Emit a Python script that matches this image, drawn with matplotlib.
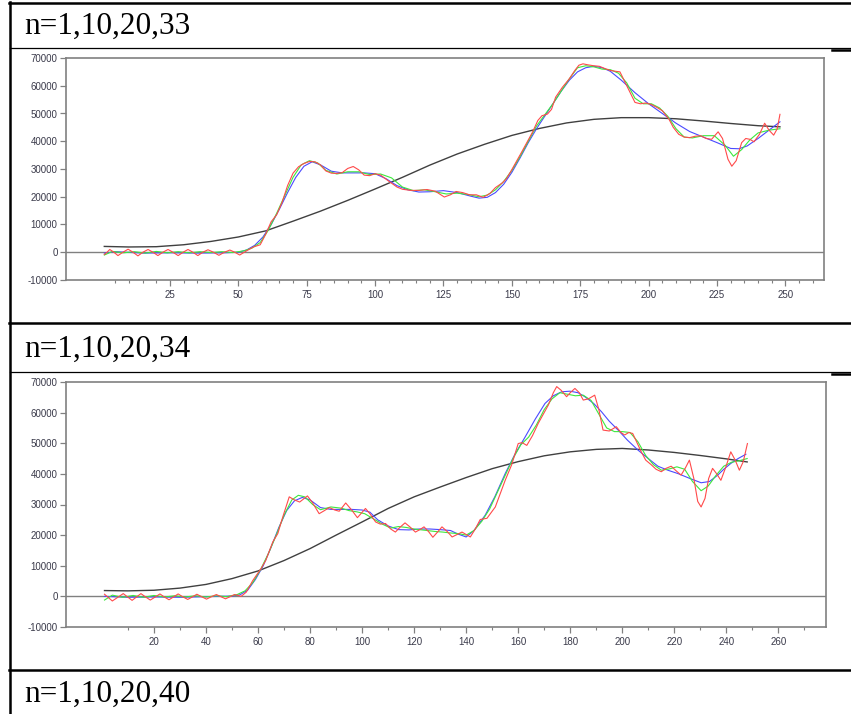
import matplotlib.pyplot as plt
from matplotlib.lines import Line2D

W, H = 851, 714

# ---- chart 1 (n=1,10,20,33) ----
c1_black_x = [1, 10, 20, 30, 40, 50, 60, 70, 80, 90, 100, 110, 120, 130, 140, 150, 160, 170, 180, 190, 200, 210, 220, 230, 240, 248]
c1_black_y = [2100, 1900, 2000, 2700, 3900, 5500, 7700, 11200, 14800, 18700, 22800, 27000, 31400, 35400, 38900, 42100,
              44600, 46600, 47900, 48500, 48500, 48100, 47300, 46400, 45600, 45200]

c1_blue_x = [1, 5, 15, 25, 35, 45, 50, 53, 56, 59, 62, 65, 68, 71, 74, 77, 80, 84, 88, 92, 96, 100, 104, 108, 112, 116,
             120, 125, 130, 135, 138, 141, 144, 147, 150, 153, 156, 159, 162, 165, 168, 171, 174, 177, 180, 183, 186,
             190, 195, 200, 205, 210, 215, 220, 225, 230, 233, 236, 240, 244, 248]
c1_blue_y = [-300, 200, -300, -200, -300, -200, 0, 800, 2500, 5500, 10000, 15500, 21500, 27000, 31000, 32600, 31500,
             29200, 28600, 28600, 28600, 28300, 26500, 24000, 22500, 21700, 21800, 22200, 21500, 20200, 19500, 19800,
             21500, 24500, 28800, 34000, 39500, 44500, 49000, 53500, 58000, 62000, 65000, 66500, 67000, 66500, 65200,
             62000, 57500, 53500, 50000, 46500, 43500, 41500, 39500, 37400, 37300, 38300, 41000, 44000, 47000]

c1_green_x = [1, 4, 8, 12, 16, 20, 24, 28, 32, 36, 40, 44, 48, 52, 55, 58, 61, 64, 67, 70, 73, 76, 79, 82, 86, 90, 94,
              98, 102, 106, 110, 114, 118, 122, 126, 130, 134, 138, 141, 144, 147, 150, 153, 156, 159, 162, 165, 168,
              171, 174, 177, 180, 183, 186, 189, 192, 195, 198, 201, 204, 207, 210, 213, 216, 220, 224, 228, 231, 234,
              237, 240, 244, 248]
c1_green_y = [-1000, 300, -200, 200, -300, 300, -200, 200, -200, 200, -100, 200, -100, 500, 1500, 3500, 8000, 14000,
              20500, 27000, 31500, 33000, 32200, 29500, 28200, 29000, 29000, 28000, 28200, 26800, 23500, 22200, 22500,
              21800, 21000, 21300, 20800, 20000, 20600, 22500, 25500, 29500, 34500, 40000, 45500, 49500, 53500, 58000,
              62500, 66500, 67200, 66800, 66000, 65800, 64500, 61000, 55500, 53500, 53500, 52000, 49000, 44500, 41500,
              41200, 42000, 42000, 38500, 34600, 37000, 40500, 43000, 44000, 44500]

c1_red_x = [1, 2, 3, 4.5, 6, 7.8, 9.7, 11.5, 13.3, 15.1, 17, 18.8, 20.6, 22.4, 24.3, 26.1, 28, 29.8, 31.6, 33.4, 35.2,
            37, 38.9, 40.9, 42.9, 44.9, 46.9, 48.7, 50.5, 53, 55.5, 58, 60, 62, 64, 66, 68, 70, 72, 74, 76, 78, 80, 82,
            84, 86, 88, 90, 92, 94, 96, 98, 100, 102, 105, 108, 110, 113, 116, 119, 122, 125.3, 127.5, 129.6, 132,
            134.5, 137, 139.5, 142, 144, 146.5, 148, 150, 153.8, 157.5, 159.5, 161, 163, 164.5, 166, 168.5, 171, 173,
            174.5, 176, 178, 180, 182, 184, 186, 188, 189.5, 191, 193, 195, 197, 199, 201, 203, 205, 207.4, 209, 211,
            213, 215, 217, 219, 221, 223, 225.4, 227, 229, 230.4, 232, 234, 235.5, 237, 238.5, 240.5, 242.4, 244,
            245.7, 247, 248]
c1_red_y = [-800, 0, 1000, 0, -1200, 0, 1100, 0, -1300, 0, 1000, 0, -1200, 0, 1000, 0, -1200, 0, 1000, 0, -1200, 0,
            900, 0, -1100, 0, 800, 0, -1000, 500, 1900, 2700, 6500, 11000, 13500, 18000, 24000, 28500, 30800, 32000,
            32700, 32600, 31500, 29300, 28500, 28400, 28700, 30200, 30900, 29700, 27800, 27600, 28300, 27800, 25600,
            23500, 22700, 22300, 22300, 22600, 22000, 19900, 20700, 21900, 21500, 20700, 20700, 19800, 21200, 23300,
            25000, 26500, 29800, 36500, 43200, 47500, 49200, 49800, 51500, 55900, 59500, 62500, 65500, 67400, 67900,
            67500, 67200, 67000, 66200, 65500, 65200, 65000, 62000, 58000, 54000, 53500, 53800, 53200, 52200, 51000,
            48000, 45000, 42500, 41500, 41300, 41800, 42000, 41000, 40700, 43400, 41000, 33500, 31000, 33000, 39500,
            41000, 40700, 39800, 42500, 46500, 44000, 42200, 44500, 49700]

# ---- chart 2 (n=1,10,20,34) ----
c2_black_x = [1, 10, 20, 30, 40, 50, 60, 70, 80, 90, 100, 110, 120, 130, 140, 150, 160, 170, 180, 190, 200, 210, 220, 230, 240, 248]
c2_black_y = [1900, 1800, 2000, 2700, 3900, 5800, 8300, 11700, 15600, 20000, 24300, 28700, 32500, 35700, 38800, 41700,
              44000, 45900, 47200, 48000, 48300, 47800, 47000, 46000, 44900, 43900]

c2_blue_x = [1, 10, 20, 30, 40, 50, 53, 56, 59, 62, 65, 68, 71, 74, 77, 80, 84, 88, 92, 96, 100, 103, 106, 110, 114,
             118, 122, 126, 130, 134, 137, 140, 143, 147.3, 151, 155, 158.8, 162.7, 166.5, 170.3, 173.5, 176.7, 179.9,
             183, 185.6, 189, 192, 195, 198.4, 202, 206, 210, 213.7, 217.5, 221.4, 226, 230.3, 233.5, 236.7, 239,
             241.7, 244.5, 247.5]
c2_blue_y = [0, -300, -200, -300, -100, 100, 500, 2000, 5500, 10000, 16000, 22500, 28000, 31200, 32300, 31500, 29000,
             28400, 28400, 28400, 28200, 27500, 25000, 23000, 21800, 21700, 22000, 22000, 21800, 21500, 20300, 19400,
             21500, 26500, 32500, 40100, 46500, 52100, 57800, 63000, 65500, 66800, 67000, 66500, 65200, 63000, 60300,
             57200, 54300, 51000, 47800, 45000, 42500, 41200, 40100, 38500, 37100, 37500, 39600, 41500, 43400, 45000,
             46400]

c2_green_x = [1, 4, 8, 12, 16, 20, 24, 28, 32, 36, 40, 44, 48, 52, 55, 58, 61, 64, 67, 70, 73, 75.5, 78, 81, 84, 88,
              92, 95, 98, 101, 105, 108, 111, 114, 117, 120, 124, 128, 131, 134, 137, 140, 143, 146, 149, 152, 155,
              158, 161, 164, 167, 170, 173, 176, 179, 182, 185, 188, 191, 194, 197, 200, 203, 206, 209, 212, 215, 218,
              221, 224, 227, 230.3, 233, 236, 239, 242, 245, 248]
c2_green_y = [-1200, 400, -300, 300, -300, 300, -200, 200, -200, 200, -200, 200, -100, 600, 1800, 4500, 8800, 14000,
              20000, 26500, 31500, 33000, 32500, 30000, 28300, 29200, 28800, 28000, 27600, 27000, 25000, 23500, 22300,
              22800, 22500, 22000, 21600, 21200, 21000, 20700, 20500, 20000, 21500, 24500, 28500, 34000, 39500, 45000,
              49500, 52000, 56000, 61000, 64500, 66500, 66000, 65500, 65700, 64000, 59500, 55000, 53800, 53800, 53500,
              50500, 46000, 43000, 41200, 41600, 42300, 41500, 37500, 34500, 36000, 39500, 42500, 43800, 44300, 45000]

c2_red_x = [1, 2.5, 4, 6.1, 8.2, 9.9, 11.6, 13.3, 15, 16.8, 18.6, 20.5, 22.3, 24, 25.8, 27.5, 29.3, 31.2, 33, 34.8,
            36.5, 38.4, 40.2, 42.1, 44, 45.8, 47.5, 49.3, 51, 53.5, 55.5, 58, 61.2, 63, 65.7, 67.6, 69.5, 72, 74, 76,
            79, 81, 83.5, 85.5, 87.4, 89.5, 91.2, 93.7, 96, 98.2, 101.3, 103, 105.2, 107, 109, 111, 112.8, 114.5,
            116.5, 118.5, 120.5, 122.2, 123.8, 125.5, 127.2, 129, 130.7, 132.7, 134.6, 136.5, 138.4, 140, 141.6,
            143.5, 145.4, 148, 151.2, 155, 157.5, 160, 161.5, 163.3, 165.5, 167.7, 171.6, 173.5, 174.8, 176.5, 178.6,
            180, 181.8, 183.5, 185, 187, 189.4, 191, 192.6, 195, 197.7, 199.5, 200.9, 202.5, 204, 205.5, 207.3, 209,
            211.1, 213, 215, 216.8, 218.8, 220.7, 222.6, 224.3, 225.8, 227.5, 229, 230.3, 231.8, 233.2, 234.7, 236.3,
            237.9, 239.7, 241.7, 243.4, 245, 246.5, 248.1]
c2_red_y = [700, -400, -1500, -300, 900, -200, -1300, -200, 900, -200, -1200, -200, 800, -200, -1100, -200, 800, -200,
            -1000, -150, 700, -150, -900, -100, 600, -100, -800, -100, 600, 0, 1400, 5200, 9100, 11800, 17800, 20500,
            25900, 32500, 31500, 30800, 32800, 30500, 27000, 28000, 29000, 28200, 27800, 30500, 28200, 25700, 28700,
            27000, 24300, 23600, 23800, 22000, 21000, 22500, 24000, 22600, 21000, 21800, 22700, 21200, 19300, 21000,
            22700, 21200, 19400, 20200, 21000, 20200, 19400, 22000, 25100, 25500, 29200, 37900, 43000, 49900, 50200,
            49300, 52500, 56500, 62500, 66500, 68500, 67300, 65200, 66500, 67900, 66500, 64100, 64500, 65700, 61000,
            54300, 54000, 55400, 53500, 52700, 53500, 53200, 50500, 47200, 44500, 43000, 41500, 40700, 41800, 42500,
            41000, 39600, 42000, 44500, 38500, 31000, 29200, 32000, 38500, 41800, 40000, 37900, 42000, 47200, 44500,
            41200, 44000, 49900]

row_labels = ["n=1,10,20,33", "n=1,10,20,34", "n=1,10,20,40"]
y_ticks = [-10000, 0, 10000, 20000, 30000, 40000, 50000, 60000, 70000]

RED, GREEN, BLUE, BLACK = "#ff4a4a", "#3de83d", "#4a4aff", "#404040"
FRAME = "#808080"
TICKC = "#3a3a4a"

fig = plt.figure(figsize=(W / 100, H / 100), dpi=100)


def px_axes(left, top, right, bottom):
    return fig.add_axes([left / W, 1 - bottom / H, (right - left) / W, (bottom - top) / H])


def draw_chart(ax, series, xlim, major, minor, narrow=False):
    for xs, ys, c, lw in series:
        ax.plot(xs, ys, color=c, lw=lw)
    ax.axhline(0, color=FRAME, lw=1.0, zorder=0)
    ax.set_xlim(*xlim)
    ax.set_ylim(-10000, 70000)
    ax.set_yticks(y_ticks)
    ax.set_yticklabels([str(v) for v in y_ticks])
    ax.set_xticks(major)
    ax.set_xticklabels([str(v) for v in major])
    ax.set_xticks(minor, minor=True)
    for s in ax.spines.values():
        s.set_color(FRAME)
        s.set_linewidth(1.2)
    ax.tick_params(axis="both", colors=FRAME, labelcolor=TICKC, labelsize=7, length=4, width=0.9, direction="out", pad=2)
    ax.tick_params(axis="x", which="minor", colors=FRAME, length=2.5, width=0.8, direction="out")
    ax.tick_params(axis="x", pad=3)
    fam = ["Liberation Sans Narrow", "Liberation Sans"] if narrow else ["Liberation Sans"]
    for t in ax.get_xticklabels():
        t.set_family(fam)
    for t in ax.get_yticklabels():
        t.set_family(["Liberation Sans"])


ax1 = px_axes(66, 58, 824, 280)
draw_chart(ax1,
           [(c1_black_x, c1_black_y, BLACK, 1.0), (c1_blue_x, c1_blue_y, BLUE, 0.8),
            (c1_green_x, c1_green_y, GREEN, 0.8), (c1_red_x, c1_red_y, RED, 0.8)],
           (-13.0, 264.1), list(range(25, 251, 25)), [v for v in range(5, 261, 5) if v % 25])

ax2 = px_axes(66, 382, 826, 627)
draw_chart(ax2,
           [(c2_black_x, c2_black_y, BLACK, 1.0), (c2_blue_x, c2_blue_y, BLUE, 0.8),
            (c2_green_x, c2_green_y, GREEN, 0.8), (c2_red_x, c2_red_y, RED, 0.8)],
           (-13.8, 278.3), list(range(20, 261, 20)), list(range(10, 271, 20)), narrow=True)


# table lines of the document around the charts
def hline(y, x0, x1, lw):
    fig.add_artist(Line2D([x0 / W, x1 / W], [1 - y / H, 1 - y / H], color="black", lw=lw, transform=fig.transFigure))


hline(3, 9, W, 1.8)
hline(48, 10, W, 0.9)
hline(49.5, 832, W, 1.8)
hline(323.5, 9, W, 1.8)
hline(372, 10, W, 0.9)
hline(373.5, 832, W, 1.8)
hline(670, 9, W, 1.8)
fig.add_artist(Line2D([10 / W, 10 / W], [1 - 2 / H, 0], color="black", lw=1.8, transform=fig.transFigure))

for lab, base in zip(row_labels, [33.5, 357, 702]):
    fig.text(24 / W, 1 - base / H, lab, family="Liberation Serif", fontsize=22.5, va="baseline", ha="left")

fig.savefig("out.png", dpi=100)
